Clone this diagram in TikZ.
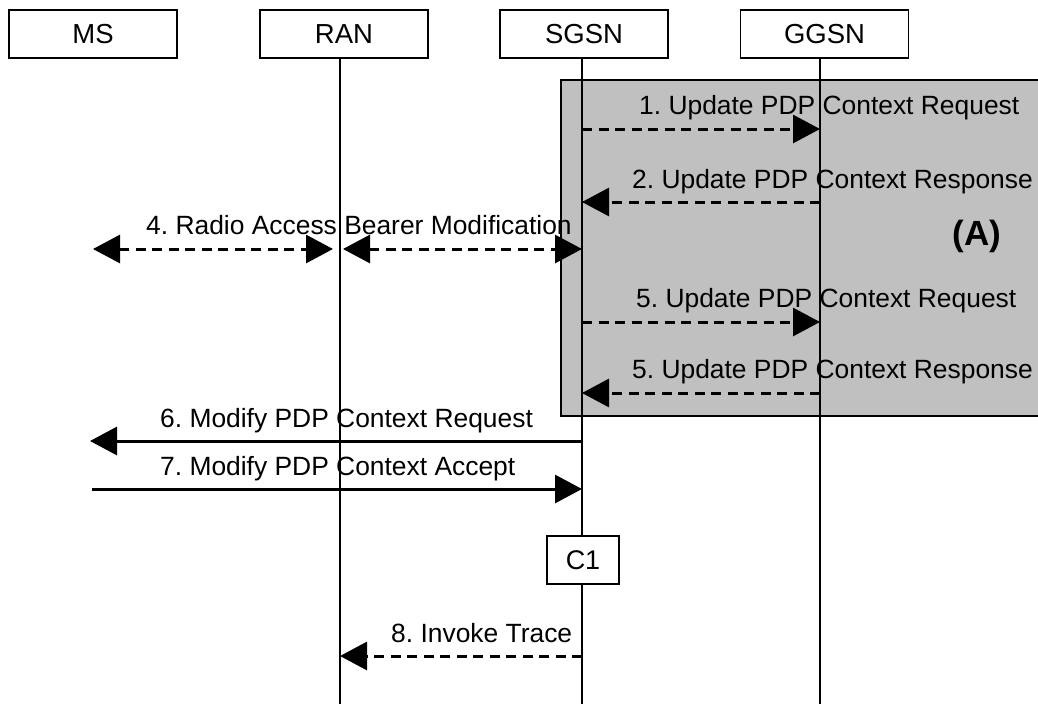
\documentclass[tikz,border=0pt]{standalone}
\usepackage{fontspec}
\setmainfont{Liberation Sans}
\usetikzlibrary{arrows.meta}
\definecolor{shade}{HTML}{C0C0C0}
\frenchspacing
\begin{document}
\begin{tikzpicture}[x=1pt,y=-1pt,
  >={Triangle[length=27pt,width=28pt]},
  ent/.style={draw, line width=1.3pt, minimum width=168pt, minimum height=48pt, inner sep=0pt, font=\fontsize{27.5}{31}\selectfont},
  cbox/.style={draw, line width=1.3pt, fill=white, minimum width=72pt, minimum height=48pt, inner sep=0pt, font=\fontsize{27}{31}\selectfont},
  life/.style={line width=1.3pt},
  msg/.style={line width=3pt, ->},
  dmsg/.style={msg, dash pattern=on 10pt off 6.5pt},
  lbl/.style={anchor=base west, inner sep=0pt, font=\fontsize{26.4}{30}\selectfont}]
\useasboundingbox (0,0) rectangle (1038,704);
% shaded area (A)
\draw[fill=shade, line width=1.3pt] (561,80) rectangle (1060,416);
% entities
\node[ent] (ms) at (93,34) {MS};
\node[ent] (ran) at (344,34) {RAN};
\node[ent] (sgsn) at (584,34) {SGSN};
\node[ent] (ggsn) at (824.5,34) {GGSN};
\node[cbox] (c1) at (583,560) {C1};
% lifelines
\coordinate (ranT) at (340,58);  \coordinate (ranB) at (340,704);
\coordinate (sgT) at (582,58);   \coordinate (sgB) at (582,704);
\coordinate (ggT) at (820,58);   \coordinate (ggB) at (820,704);
\coordinate (c1T) at (582,536);  \coordinate (c1B) at (582,584);
\draw[life] (ranT) -- (ranB);
\draw[life] (sgT) -- (c1T);
\draw[life] (c1B) -- (sgB);
\draw[life] (ggT) -- (ggB);
% message points
\coordinate (s1) at (582,129); \coordinate (g1) at (820,129);
\coordinate (s2) at (582,202); \coordinate (g2) at (820,202);
\coordinate (m4) at (93,249);  \coordinate (r4a) at (333,249);
\coordinate (r4b) at (343,249); \coordinate (s4) at (582,249);
\coordinate (s5) at (582,322); \coordinate (g5) at (820,322);
\coordinate (s5b) at (582,393); \coordinate (g5b) at (820,393);
\coordinate (s6) at (582,441); \coordinate (m6) at (90,441);
\coordinate (m7) at (92,489);  \coordinate (s7) at (582,489);
\coordinate (s8) at (582,656); \coordinate (r8) at (340,656);
% messages
\draw[dmsg] (s1) -- (g1);
\draw[dmsg] (g2) -- (s2);
\draw[dmsg, <->] (m4) -- (r4a);
\draw[dmsg, <->] (r4b) -- (s4);
\draw[dmsg] (s5) -- (g5);
\draw[dmsg] (g5b) -- (s5b);
\draw[msg] (s6) -- (m6);
\draw[msg] (m7) -- (s7);
\draw[dmsg] (s8) -- (r8);
% labels
\node[lbl] (l1) at (639,114) {1. Update PDP Context Request};
\node[lbl] (l2) at (632,188) {2. Update PDP Context Response};
\node[lbl] (l4) at (146,234) {4. Radio Access Bearer Modification};
\node[lbl] (l5) at (636,307) {5. Update PDP Context Request};
\node[lbl] (l5b) at (632,378) {5. Update PDP Context Response};
\node[lbl] (l6) at (160,427) {6. Modify PDP Context Request};
\node[lbl] (l7) at (160,475) {7. Modify PDP Context Accept};
\node[lbl] (l8) at (391,642) {8. Invoke Trace};
\node[font=\fontsize{35}{40}\selectfont\bfseries] (A) at (977,236) {(A)};
\end{tikzpicture}
\end{document}
